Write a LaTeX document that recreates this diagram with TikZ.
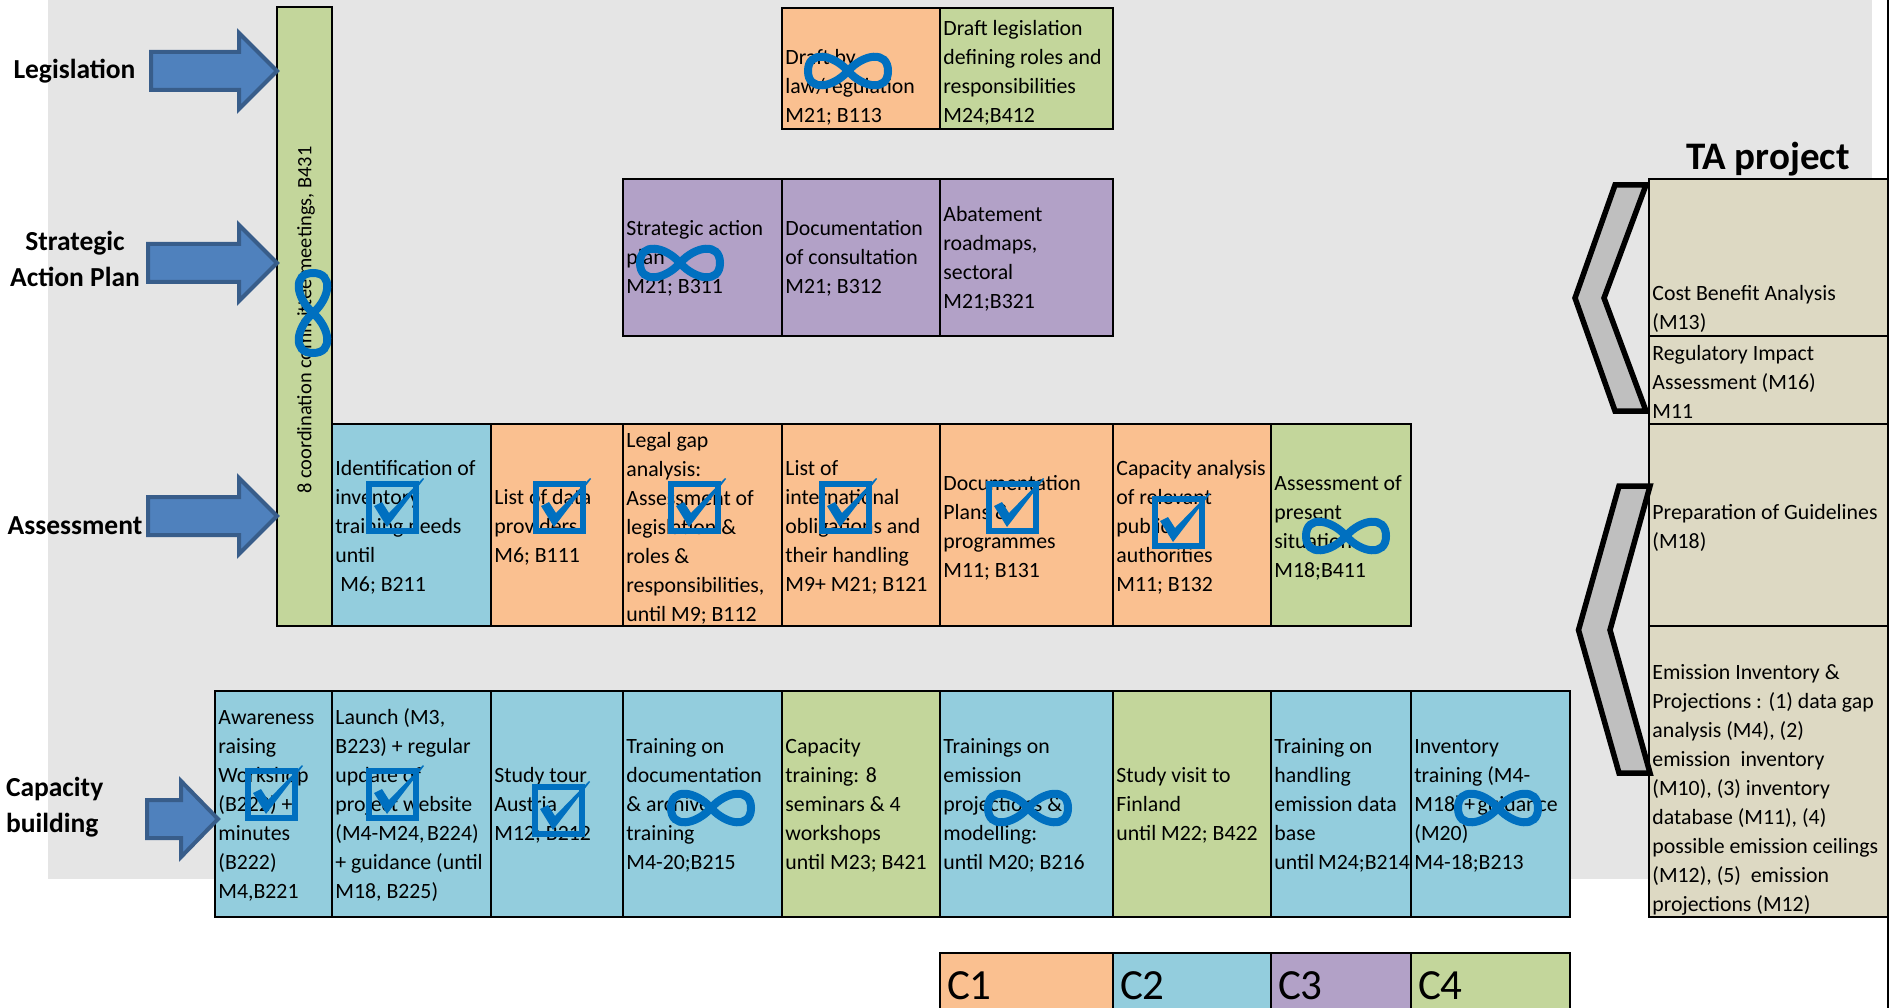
\documentclass[tikz,border=0pt]{standalone}
\usepackage{fontspec}
\setmainfont{Carlito}
\definecolor{cO}{HTML}{FAC090}
\definecolor{cB}{HTML}{93CDDD}
\definecolor{cP}{HTML}{B2A1C7}
\definecolor{cG}{HTML}{C3D69B}
\definecolor{cT}{HTML}{DDD9C3}
\definecolor{cBg}{HTML}{E5E5E5}
\definecolor{cIcon}{HTML}{0070C0}
\definecolor{cArrow}{HTML}{4F81BD}
\definecolor{cArrowLine}{HTML}{385D8A}
\definecolor{cChev}{HTML}{BFBFBF}
\tikzset{
  cellbox/.style={draw=black,line width=2.5pt,inner sep=0pt,outer sep=0pt},
  celltext/.style={inner sep=0pt,outer sep=0pt,align=left,font=\fontsize{21.8}{29}\selectfont},
  headlabel/.style={inner sep=0pt,outer sep=0pt,font=\fontsize{27.5}{36}\selectfont\bfseries},
  legendtext/.style={inner sep=0pt,outer sep=0pt,anchor=west,font=\fontsize{43}{50}\selectfont},
  blockarrow/.style={fill=cArrow,draw=cArrowLine,line width=4pt,miter limit=10},
  chevronshape/.style={fill=cChev,draw=black,line width=5.5pt,miter limit=10},
  iconline/.style={draw=cIcon,line width=8pt},
  infmark/.pic={\draw[iconline]
    (0,0) .. controls (15,-17) and (40,-21) .. (40,0)
    .. controls (40,21) and (15,17) .. (0,0)
    .. controls (-15,-17) and (-40,-21) .. (-40,0)
    .. controls (-40,21) and (-15,17) .. (0,0) -- cycle;},
  chkmark/.pic={
    \draw[draw=cIcon,line width=6.5pt] (3,3) rectangle (50,50);
    \fill[cIcon] (8,25) -- (16,21) -- (23,32) -- (57,-3) -- (58,-2) -- (21,46) -- cycle;}
}
\newcommand{\cell}[8]{%
  \pgfmathsetmacro{\cw}{#4-#2}\pgfmathsetmacro{\ch}{#5-#3}%
  \node[cellbox,fill=#6,minimum width=\cw pt,minimum height=\ch pt,anchor=north west] (#1) at (#2,#3) {};%
  \node[celltext,anchor=west] (#1t) at (#2+3.4,#7+1.7) {\strut #8\strut};}
\newcommand{\legendcell}[6]{%
  \pgfmathsetmacro{\cw}{#4-#2}%
  \node[cellbox,fill=#5,minimum width=\cw pt,minimum height=70pt,anchor=north west] (#1) at (#2,#3) {};%
  \node[legendtext] (#1t) at (#2+7,986) {#6};}
\newcommand{\barrow}[4]{% tail, base, tip, yc
  \draw[blockarrow] (#1,#4-19) -- (#2,#4-19) -- (#2,#4-38) -- (#3,#4) -- (#2,#4+38) -- (#2,#4+19) -- (#1,#4+19) -- cycle;}
\begin{document}
\begin{tikzpicture}[x=1pt,y=-1pt]
\useasboundingbox (0,0) rectangle (1895,1008);
\clip (0,0) rectangle (1895,1008);
\fill[white] (0,0) rectangle (1895,1008);
\fill[cBg] (48,0) rectangle (1872,879);
\draw[black,line width=2pt] (1888,0) -- (1888,1008);

% coordination bar
\node[cellbox,fill=cG,minimum width=55pt,minimum height=619pt,anchor=north west] (bar) at (277,7) {};
\node[celltext,rotate=90,font=\fontsize{20.4}{29}\selectfont] (bart) at (306,320) {8 coordination committee meetings, B431};

% row 1
\cell{la}{782}{8}{940}{129}{cO}{86.5}{Draft by\\law/regulation\\M21; B113}
\cell{lb}{940}{8}{1113}{129}{cG}{72}{Draft legislation\\defining roles and\\responsibilities\\M24;B412}
% row 2
\cell{sa}{623}{179}{782}{336}{cP}{257.5}{Strategic action\\plan\\M21; B311}
\cell{sb}{782}{179}{940}{336}{cP}{257.5}{Documentation\\of consultation\\M21; B312}
\cell{sc}{940}{179}{1113}{336}{cP}{258}{Abatement\\roadmaps,\\sectoral\\M21;B321}
% row 3
\cell{aa}{332}{424}{491}{626}{cB}{526}{Identification of\\inventory\\training needs\\until\\\ M6; B211}
\cell{ab}{491}{424}{623}{626}{cO}{526}{List of data\\providers\\M6; B111}
\cell{ac}{623}{424}{782}{626}{cO}{526.5}{Legal gap\\analysis:\\Assessment of\\legislation \&\\roles \&\\responsibilities,\\until M9; B112}
\cell{ad}{782}{424}{940}{626}{cO}{526}{List of\\international\\obligations and\\their handling\\M9+ M21; B121}
\cell{ae}{940}{424}{1113}{626}{cO}{526}{Documentation\\Plans \&\\programmes\\M11; B131}
\cell{af}{1113}{424}{1271}{626}{cO}{526}{Capacity analysis\\of relevant\\public\\authorities\\M11; B132}
\cell{ag}{1271}{424}{1411}{626}{cG}{526}{Assessment of\\present\\situation\\M18;B411}
% row 4
\cell{ca}{215}{691}{332}{917}{cB}{804}{Awareness\\raising\\Workshop\\(B222) +\\minutes\\(B222)\\M4,B221}
\cell{cb}{332}{691}{491}{917}{cB}{804}{Launch (M3,\\B223) + regular\\update of\\project website\\(M4-M24,\hspace{2.5pt}B224)\\+ guidance (until\\M18, B225)}
\cell{cc}{491}{691}{623}{917}{cB}{804}{Study tour\\Austria\\M12; B212}
\cell{cd}{623}{691}{782}{917}{cB}{804}{Training on\\documentation\\\& archive\\training\\M4-20;B215}
\cell{ce}{782}{691}{940}{917}{cG}{804}{Capacity\\training: 8\\seminars \& 4\\workshops\\until M23; B421}
\cell{cf}{940}{691}{1113}{917}{cB}{804}{Trainings on\\emission\\projections \&\\modelling:\\until M20; B216}
\cell{cg}{1113}{691}{1271}{917}{cG}{804}{Study visit to\\Finland\\until M22; B422}
\cell{ch}{1271}{691}{1411}{917}{cB}{804}{Training on\\handling\\emission data\\base\\until\hspace{4pt}M24;B214}
\cell{ci}{1411}{691}{1570}{917}{cB}{804}{Inventory\\training (M4-\\M18)\hspace{2.5pt}+\hspace{2.5pt}guidance\\(M20)\\M4-18;B213}
% legend
\legendcell{ka}{940}{953}{1113}{cO}{C1}
\legendcell{kb}{1113}{953}{1271}{cB}{C2}
\legendcell{kc}{1271}{953}{1411}{cP}{C3}
\legendcell{kd}{1411}{953}{1570}{cG}{C4}
% TA project
\node[headlabel,font=\fontsize{39}{44}\selectfont\bfseries] (ta) at (1768,159) {TA project};
\cell{ra}{1649}{179}{1888}{336}{cT}{308}{Cost Benefit Analysis\\(M13)}
\cell{rb}{1649}{336}{1888}{424}{cT}{382}{Regulatory Impact\\Assessment (M16)\\M11}
\cell{rc}{1649}{424}{1888}{626}{cT}{526}{Preparation of Guidelines\\(M18)}
\cell{rd}{1649}{626}{1888}{917}{cT}{788}{Emission Inventory \&\\Projections : (1) data gap\\analysis (M4), (2)\\emission\ \ inventory\\(M10), (3) inventory\\database (M11), (4)\\possible emission ceilings\\(M12), (5)\ \ emission\\projections (M12)}
% chevrons
\draw[chevronshape] (1646,185) -- (1615,185) -- (1575,298) -- (1615,411) -- (1646,411) -- (1604,298) -- cycle;
\draw[chevronshape] (1650,486) -- (1619,486) -- (1578.5,630) -- (1619,773) -- (1650,773) -- (1610,630) -- cycle;
% arrows
\barrow{151}{239}{277}{71}
\barrow{148}{239}{277}{263}
\barrow{148}{239}{277}{516}
\barrow{147}{181}{218}{819}
% side labels
\node[headlabel] (l1) at (74.5,71.4) {Legislation};
\node[headlabel,align=center] (l2) at (75,259) {Strategic\\Action Plan};
\node[headlabel] (l3) at (75,526) {Assessment};
\node[headlabel,align=left,anchor=west] (l4) at (6,807) {Capacity\\building};
% status marks
\pic at (848,71) {infmark};
\pic at (680,263) {infmark};
\pic at (1346,536) {infmark};
\pic at (711,808) {infmark};
\pic at (1028,808) {infmark};
\pic at (1498,808) {infmark};
\pic[rotate=90] at (313,313) {infmark};
\pic at (366,481) {chkmark};
\pic at (533,481) {chkmark};
\pic at (668,481) {chkmark};
\pic at (819,481) {chkmark};
\pic at (986,481) {chkmark};
\pic at (1152,496) {chkmark};
\pic at (245,768) {chkmark};
\pic at (366,768) {chkmark};
\pic at (532,784) {chkmark};
\end{tikzpicture}
\end{document}
